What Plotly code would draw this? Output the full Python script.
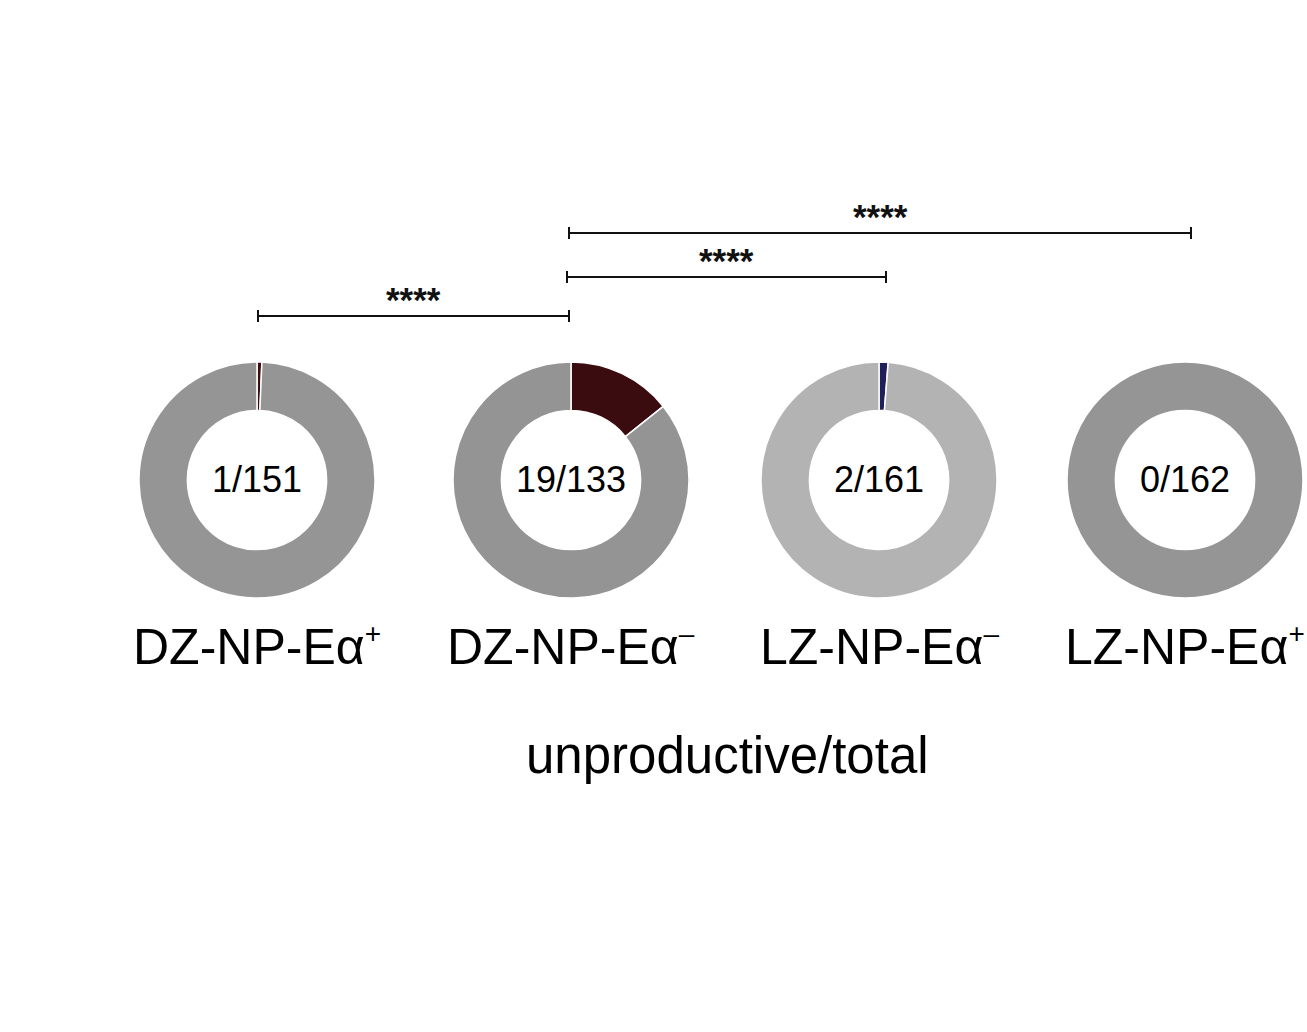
"""Donut charts of unproductive / total sequences per GC subset,
   with significance brackets on top
"""

import plotly.graph_objects as go

# data
groups = ["DZ-NP-Eα", "DZ-NP-Eα", "LZ-NP-Eα", "LZ-NP-Eα"]
group_signs = ["+", "–", "–", "+"]
unproductive = [1, 19, 2, 0]
totals = [151, 133, 161, 162]
highlight_colors = ["#3d0c0e", "#3b0c0f", "#1f1f5a", "#3d0c0e"]
rest_colors = ["#959595", "#949494", "#b3b3b3", "#959595"]

# significance comparisons (group index pairs) and their labels
comparisons = [(0, 1), (1, 2), (1, 3)]
sig_labels = ["****", "****", "****"]

W, H = 1307, 1032
FONT = "Arial, Liberation Sans, sans-serif"

# layout in window pixels
centers_x = [257, 571, 879, 1185]
center_y = 480
radius = 118
# bracket ends are drawn a bit off the donut centres in the original
bracket_x = [(258, 569), (567, 886), (569, 1191)]
bracket_y = [316, 277, 233]
tick_half = 6


def px_x(x):
    return x / W


def px_y(y):
    return 1 - y / H


fig = go.Figure()

for i, name in enumerate(groups):
    productive = totals[i] - unproductive[i]
    cx = centers_x[i]
    fig.add_trace(
        go.Pie(
            values=[unproductive[i], productive],
            labels=["unproductive", "productive"],
            hole=0.59,
            sort=False,
            direction="clockwise",
            rotation=0,
            textinfo="none",
            marker={
                "colors": [highlight_colors[i], rest_colors[i]],
                "line": {"color": "white", "width": 1.5},
            },
            domain={
                "x": [px_x(cx - radius), px_x(cx + radius)],
                "y": [px_y(center_y + radius), px_y(center_y - radius)],
            },
            showlegend=False,
            name=name + group_signs[i],
        )
    )
    # count in the hole
    fig.add_annotation(
        x=px_x(cx), y=px_y(center_y), xref="paper", yref="paper",
        xanchor="center", yanchor="middle",
        text=f"{unproductive[i]}/{totals[i]}", showarrow=False,
        font={"size": 36, "color": "black", "family": FONT},
    )
    # group label under the donut
    fig.add_annotation(
        x=px_x(cx), y=px_y(646), xref="paper", yref="paper",
        xanchor="center", yanchor="middle",
        text=f"{name}<sup><span style='font-size:28px'>{group_signs[i]}</span></sup>",
        showarrow=False,
        font={"size": 50, "color": "black", "family": FONT},
    )

# axis title like label
fig.add_annotation(
    x=px_x(727), y=px_y(755), xref="paper", yref="paper",
    xanchor="center", yanchor="middle",
    text="unproductive/total", showarrow=False,
    font={"size": 51, "color": "black", "family": FONT},
)

# significance brackets
for (xa, xb), lab, by in zip(bracket_x, sig_labels, bracket_y):
    x0, x1 = px_x(xa), px_x(xb)
    line = {"color": "#111111", "width": 2}
    fig.add_shape(type="line", xref="paper", yref="paper",
                  x0=x0, x1=x1, y0=px_y(by), y1=px_y(by), line=line)
    for xe in (x0, x1):
        fig.add_shape(type="line", xref="paper", yref="paper",
                      x0=xe, x1=xe, y0=px_y(by - tick_half), y1=px_y(by + tick_half),
                      line=line)
    fig.add_annotation(
        x=(x0 + x1) / 2, y=px_y(by - 17), xref="paper", yref="paper",
        xanchor="center", yanchor="middle",
        text=f"<b>{lab}</b>", showarrow=False,
        font={"size": 35, "color": "#111111", "family": FONT},
    )

fig.update_layout(
    width=W,
    height=H,
    margin={"l": 0, "r": 0, "t": 0, "b": 0},
    paper_bgcolor="white",
    plot_bgcolor="white",
    font={"family": FONT},
)

# drop the default body margin so the figure fills the window
fig.write_html(
    "out.html",
    config={"displayModeBar": False},
    post_script="document.body.style.margin='0';",
)
